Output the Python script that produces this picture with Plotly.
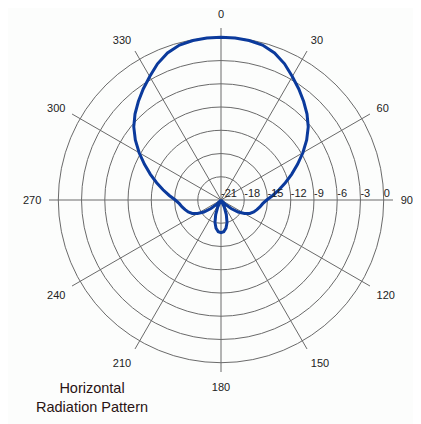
import plotly.graph_objects as go

# Pattern data (degrees clockwise from north, relative level in dB)
theta_deg = [0, 5, 10, 15, 20, 25, 30, 35, 40, 45, 50, 55, 60, 65, 70, 75, 80, 85, 90, 95, 100, 105, 110, 115, 120, 125, 130, 135, 140,
             150, 155, 160, 165, 170, 175, 180, 185, 190, 195, 200, 205, 210,
             220, 225, 230, 235, 240, 245, 250, 255, 260, 265, 270, 275, 280, 285, 290, 295, 300, 305, 310, 315, 320, 325, 330, 335, 340, 345, 350, 355, 360]
level_db = [0.0, 0.0, -0.1, -0.3, -0.8, -1.6, -2.6, -3.5, -4.4, -5.3, -6.3, -7.5, -8.8, -10.1, -11.3, -12.4, -13.4, -14.3, -15.1, -15.6, -15.9, -16.2, -16.5, -16.9, -17.5, -18.3, -19.3, -20.3, -21.0,
            -21.0, -20.0, -19.0, -18.0, -17.3, -16.9, -16.8, -16.9, -17.3, -18.0, -19.0, -20.0, -21.0,
            -21.0, -20.3, -19.3, -18.3, -17.5, -16.9, -16.5, -16.2, -15.9, -15.6, -15.1, -14.3, -13.4, -12.4, -11.3, -10.1, -8.8, -7.5, -6.3, -5.3, -4.4, -3.5, -2.6, -1.6, -0.8, -0.3, -0.1, 0.0, 0.0]

ring_vals = [-21, -18, -15, -12, -9, -6, -3, 0]
ring_labels = ["-21", "-18", "-15", "-12", "-9", "-6", "-3", "0"]
angle_ticks = [0, 30, 60, 90, 120, 150, 180, 210, 240, 270, 300, 330]
angle_labels = [str(a) for a in angle_ticks]
caption = "Horizontal<br>Radiation Pattern"

FONT = "Liberation Sans, Arial, sans-serif"
BG = "#fcfdfc"
GRID = "#6a6a6a"

fig = go.Figure()
fig.add_trace(go.Scatterpolar(
    r=level_db, theta=theta_deg, mode="lines",
    line=dict(color="#0b3a9c", width=3),
    hoverinfo="skip", showlegend=False,
))
fig.add_trace(go.Scatterpolar(
    r=ring_vals, theta=[90] * len(ring_vals), mode="text",
    text=ring_labels, textposition="top right",
    textfont=dict(family=FONT, size=11, color="#222222"),
    hoverinfo="skip", showlegend=False,
))

fig.update_layout(
    width=421, height=424,
    margin=dict(l=0, r=0, t=0, b=0),
    paper_bgcolor=BG,
    plot_bgcolor=BG,
    showlegend=False,
    polar=dict(
        domain=dict(x=[0.0974, 0.9145], y=[0.1415, 0.9528]),
        bgcolor=BG,
        radialaxis=dict(
            range=[-21, 1.2], tickvals=ring_vals[1:], showticklabels=False,
            ticks="", showline=False, gridcolor=GRID, gridwidth=1,
        ),
        angularaxis=dict(
            rotation=90, direction="clockwise",
            tickvals=angle_ticks, ticktext=angle_labels,
            ticks="outside", ticklen=5, tickcolor="rgba(0,0,0,0)",
            showline=False, gridcolor=GRID, gridwidth=1,
            tickfont=dict(family=FONT, size=11, color="#222222"),
        ),
    ),
    annotations=[dict(
        text=caption, x=84 / 421, y=1 - 389 / 424, xref="paper", yref="paper",
        xanchor="center", yanchor="middle", showarrow=False, align="center",
        font=dict(family=FONT, size=14.5, color="#2a1414"),
    )],
)

fig.write_html("out.html")
